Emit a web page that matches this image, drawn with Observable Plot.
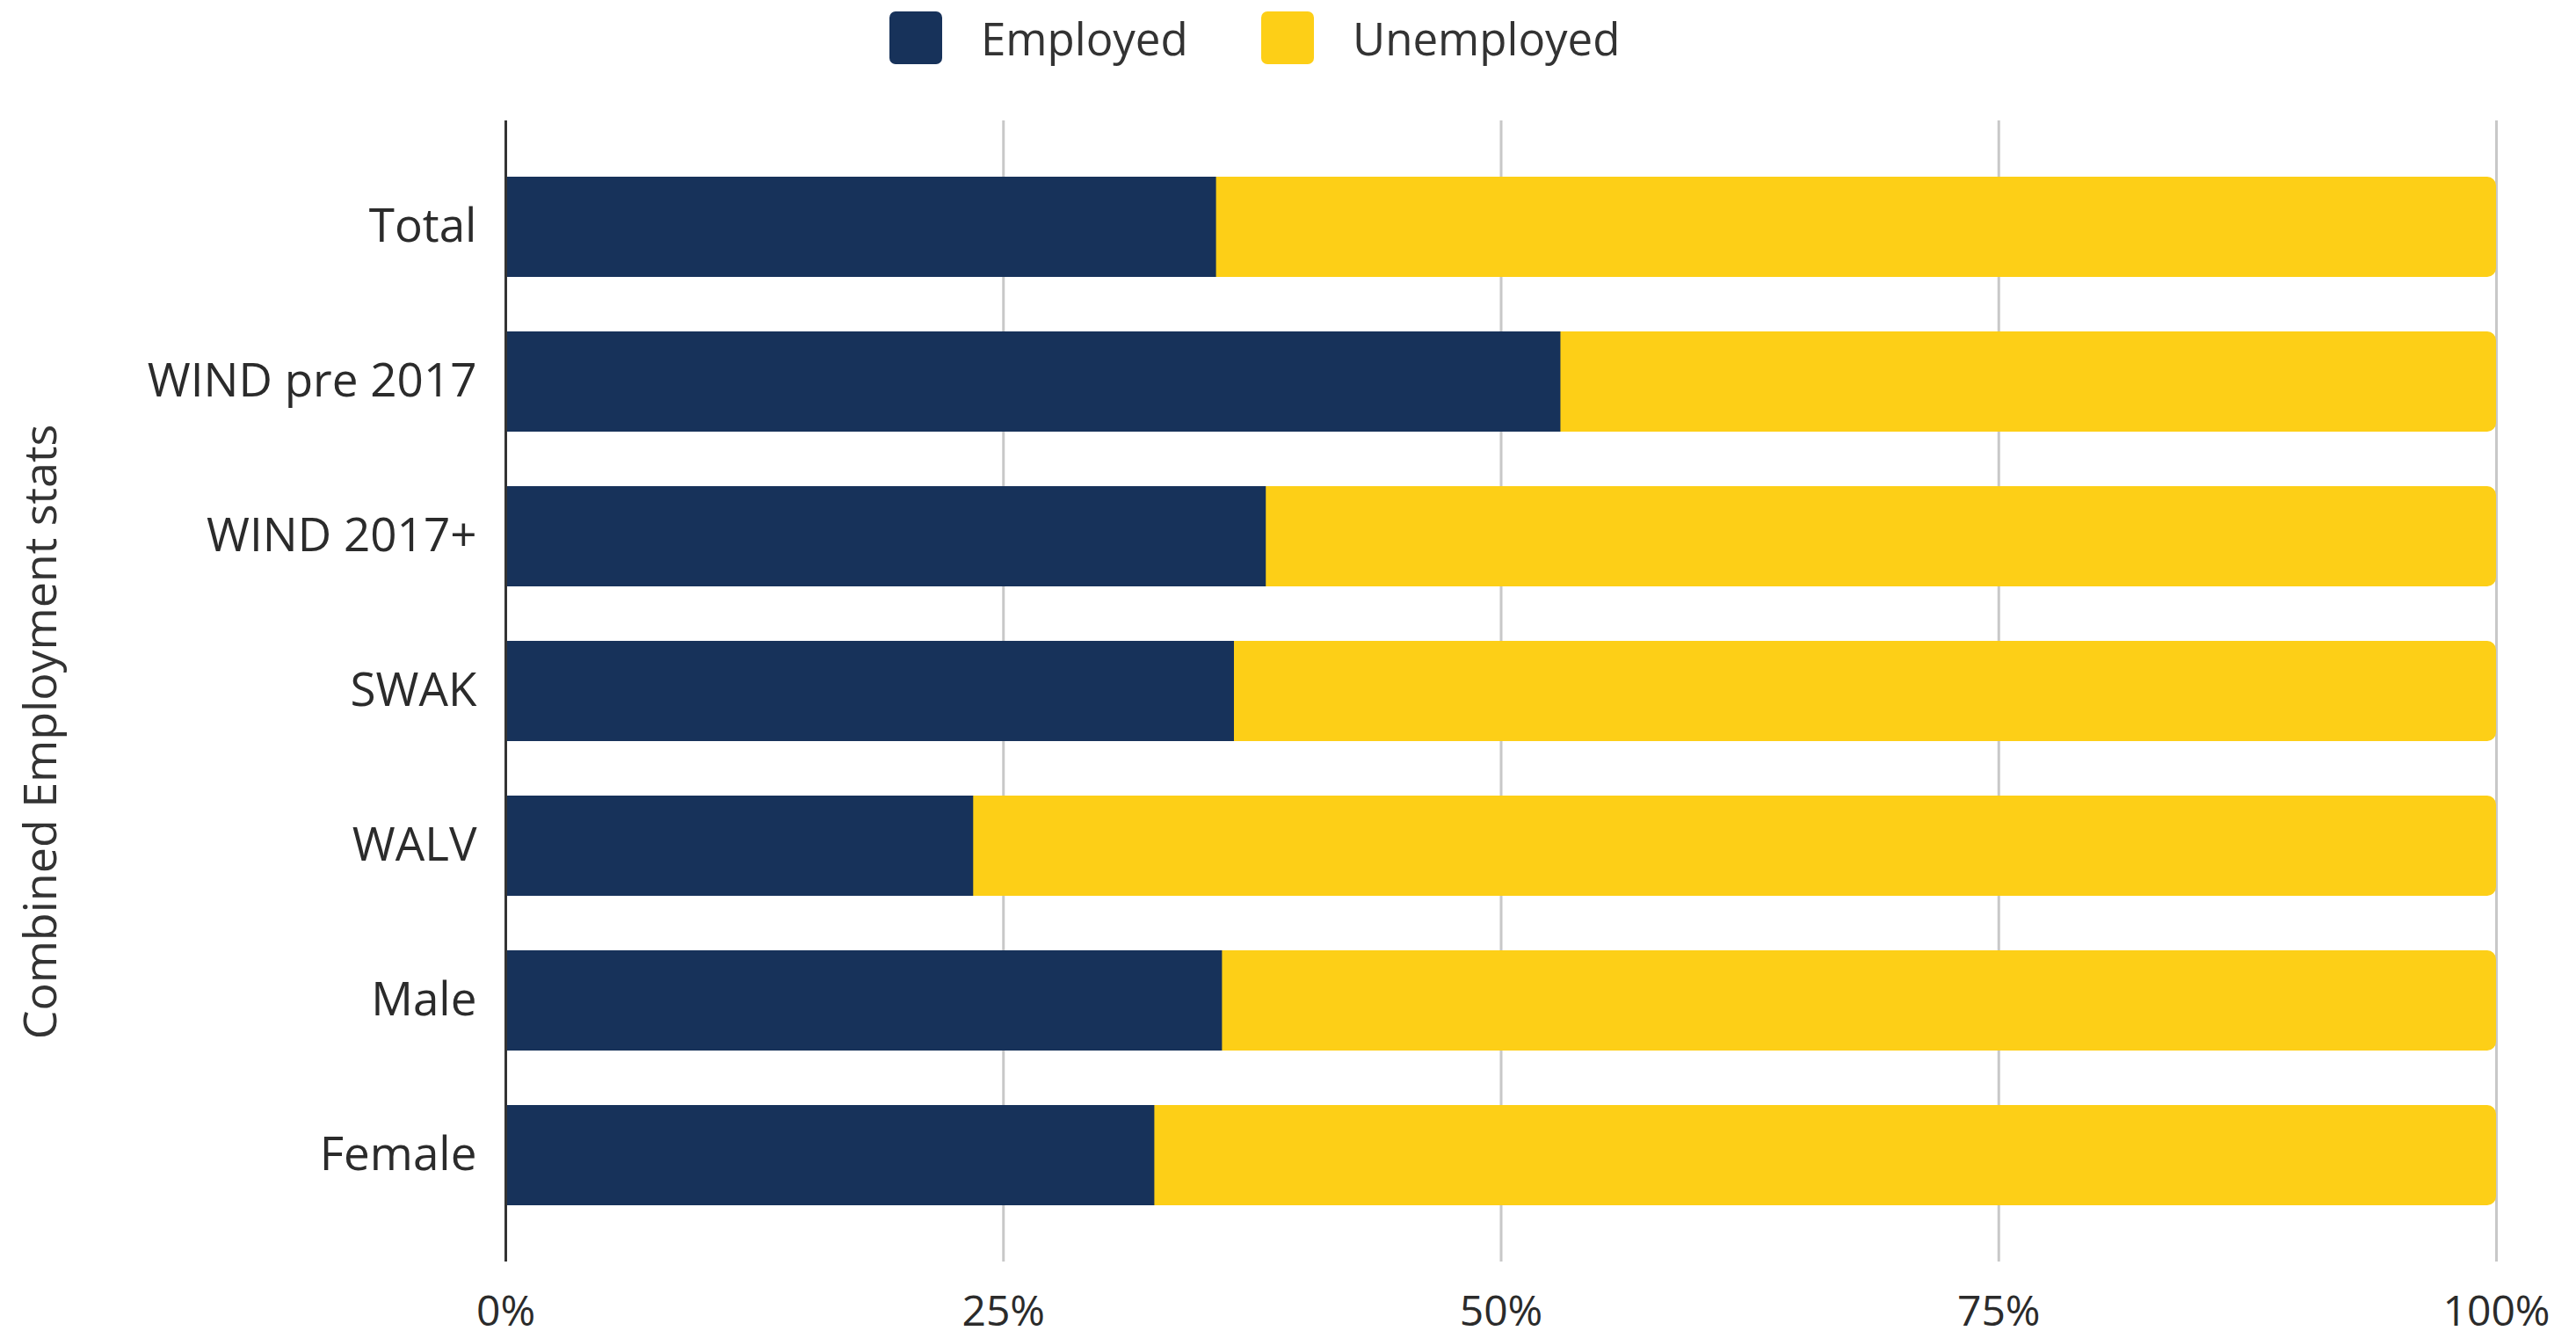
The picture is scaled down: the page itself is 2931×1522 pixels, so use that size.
<!DOCTYPE html>
<html>
<head>
<meta charset="utf-8">
<script src="https://cdn.jsdelivr.net/npm/d3@7"></script>
<script src="https://cdn.jsdelivr.net/npm/@observablehq/plot@0.6"></script>
<style>
  html, body { margin: 0; padding: 0; background: #fff; }
  body { width: 2931px; height: 1522px; overflow: hidden; font-family: "Open Sans", sans-serif; color: #2b2b2b; }
  #legend { position: relative; width: 2931px; height: 100px; }
  .sw { position: absolute; top: 13px; width: 60px; height: 60px; border-radius: 7px; }
  .lt { position: absolute; top: 43px; transform: translateY(-50%); font-size: 51px; line-height: 1; color: #333; }
  #chart svg { display: block; }
</style>
</head>
<body>
<div id="legend"></div>
<div id="chart"></div>
<script>
const categories = ["Total", "WIND pre 2017", "WIND 2017+", "SWAK", "WALV", "Male", "Female"];
const employed   = [35.7, 53.0, 38.2, 36.6, 23.5, 36.0, 32.6];
const unemployed = [64.3, 47.0, 61.8, 63.4, 76.5, 64.0, 67.4];
const seriesNames = ["Employed", "Unemployed"];
const seriesColors = ["#17325a", "#fdcf17"];
const xTicks = [0, 25, 50, 75, 100];
const axisTitle = "Combined Employment stats";

// legend
const legend = document.getElementById("legend");
const legendPos = [[1012, 1116], [1435, 1539]];
seriesNames.forEach((name, i) => {
  const sw = document.createElement("div");
  sw.className = "sw";
  sw.style.left = legendPos[i][0] + "px";
  sw.style.background = seriesColors[i];
  legend.appendChild(sw);
  const t = document.createElement("div");
  t.className = "lt";
  t.style.left = legendPos[i][1] + "px";
  t.textContent = name;
  legend.appendChild(t);
});

const rows = categories.map((c, i) => ({
  category: c,
  employed: employed[i],
  unemployed: unemployed[i],
  total: employed[i] + unemployed[i]
}));

const chart = Plot.plot({
  width: 2931,
  height: 1422,
  marginTop: 37,
  marginBottom: 87,
  marginLeft: 575,
  marginRight: 91,
  style: { fontFamily: "Open Sans, sans-serif", color: "#2b2b2b", background: "#fff" },
  x: { domain: [0, 100] },
  y: { domain: categories, padding: 0.35 },
  marks: [
    Plot.ruleX(xTicks.slice(1), { stroke: "#c8c8c8", strokeWidth: 3 }),
    Plot.barX(rows, {
      y: "category",
      x1: "employed",
      x2: "total",
      fill: seriesColors[1],
      insetLeft: -14,
      rx: 10
    }),
    Plot.barX(rows, {
      y: "category",
      x1: 0,
      x2: "employed",
      fill: seriesColors[0]
    }),
    Plot.ruleX([0], { stroke: "#333", strokeWidth: 3 }),
    Plot.axisX({
      ticks: xTicks,
      tickFormat: d => d + "%",
      tickSize: 0,
      tickPadding: 38,
      fontSize: 48,
      label: null
    }),
    Plot.axisY({
      tickSize: 0,
      tickPadding: 33,
      fontSize: 53,
      label: null
    }),
    Plot.text([axisTitle], {
      frameAnchor: "left",
      rotate: -90,
      dx: -528,
      dy: 46,
      fontSize: 52,
      fill: "#333",
      textAnchor: "middle"
    })
  ]
});
document.getElementById("chart").appendChild(chart);
</script>
</body>
</html>
